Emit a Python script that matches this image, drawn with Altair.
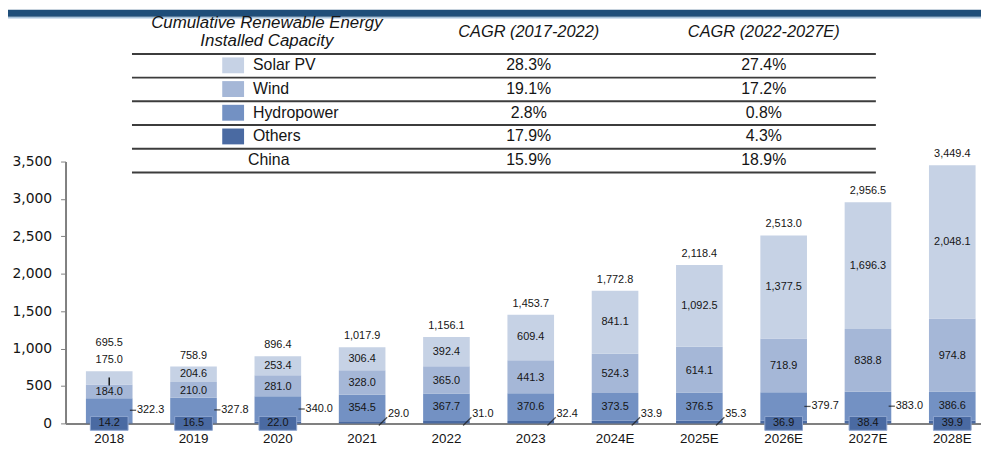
import altair as alt
import pandas as pd

# ---------------- data ----------------
YEARS = ["2018", "2019", "2020", "2021", "2022", "2023",
         "2024E", "2025E", "2026E", "2027E", "2028E"]
SOLAR = [175.0, 204.6, 253.4, 306.4, 392.4, 609.4, 841.1, 1092.5, 1377.5, 1696.3, 2048.1]
WIND = [184.0, 210.0, 281.0, 328.0, 365.0, 441.3, 524.3, 614.1, 718.9, 838.8, 974.8]
HYDRO = [322.3, 327.8, 340.0, 354.5, 367.7, 370.6, 373.5, 376.5, 379.7, 383.0, 386.6]
OTHERS = [14.2, 16.5, 22.0, 29.0, 31.0, 32.4, 33.9, 35.3, 36.9, 38.4, 39.9]
TOTALS = [695.5, 758.9, 896.4, 1017.9, 1156.1, 1453.7, 1772.8, 2118.4, 2513.0, 2956.5, 3449.4]

Y_TICKS = [0, 500, 1000, 1500, 2000, 2500, 3000, 3500]

TABLE_ROWS = ["Solar PV", "Wind", "Hydropower", "Others", "China"]
CAGR_17_22 = ["28.3%", "19.1%", "2.8%", "17.9%", "15.9%"]
CAGR_22_27 = ["27.4%", "17.2%", "0.8%", "4.3%", "18.9%"]
HEAD_1 = ["Cumulative Renewable Energy", "Installed Capacity"]
HEAD_2 = "CAGR (2017-2022)"
HEAD_3 = "CAGR (2022-2027E)"

# label placement (style)
SOLAR_ABOVE = ["2018"]
HYDRO_OUTSIDE = ["2018", "2019", "2020", "2026E", "2027E"]
OTHERS_BOXED = ["2018", "2019", "2020", "2026E", "2027E", "2028E"]

SERIES = ["Solar PV", "Wind", "Hydropower", "Others"]
COLORS = ["#c6d2e5", "#a5b7d7", "#7391c3", "#4a6aa2"]

FONT = "Liberation Sans"
TXT = "#151515"

# ---------------- frames ----------------
long_rows, wide_rows = [], []
for i, yr in enumerate(YEARS):
    base = 0.0
    rec = {"year": yr, "total": TOTALS[i]}
    for s, vals in [("Others", OTHERS), ("Hydropower", HYDRO), ("Wind", WIND), ("Solar PV", SOLAR)]:
        v = vals[i]
        long_rows.append({"year": yr, "series": s, "value": v, "y0": base, "y1": base + v})
        rec[s + "_val"] = v
        rec[s + "_mid"] = base + v / 2
        rec[s + "_y0"] = base
        base += v
    wide_rows.append(rec)
long_df = pd.DataFrame(long_rows)
wide = pd.DataFrame(wide_rows)

W, H = 923, 264
xscale = alt.Scale(paddingInner=0.447, paddingOuter=0.153, align=0.79)
yscale = alt.Scale(domain=[0, 3500], nice=False, zero=True)
X = alt.X("year:N", sort=YEARS, scale=xscale,
          axis=alt.Axis(title=None, ticks=False, labelAngle=0, labelFont=FONT,
                        labelFontSize=13.5, labelColor=TXT, labelPadding=8,
                        domainColor="#808080", domainWidth=2))
YAX = alt.Axis(title=None, values=Y_TICKS, format=",d", grid=False,
               labelOverlap=False, tickSize=5, tickColor="#808080",
               domainColor="#808080", domainWidth=2,
               labelFont="DejaVu Sans", labelFontSize=14,
               labelColor=TXT, labelPadding=9)
color = alt.Color("series:N", scale=alt.Scale(domain=SERIES, range=COLORS), legend=None)


def Yq(col):
    return alt.Y(col, scale=yscale, axis=YAX)


def Y0():
    return alt.Y(datum=0, scale=yscale, axis=YAX)


bars = alt.Chart(long_df).mark_bar().encode(
    x=X, y=Yq("y1:Q"), y2="y0:Q", color=color)


def lbl(df, ycol, tcol, **mk):
    return alt.Chart(df).mark_text(font=FONT, fontSize=11, color=TXT, **mk).encode(
        x=X, y=Yq(ycol), text=alt.Text(tcol, format=",.1f"))


w_norm = wide[~wide["year"].isin(SOLAR_ABOVE)]
w_above = wide[wide["year"].isin(SOLAR_ABOVE)]
w_hin = wide[~wide["year"].isin(HYDRO_OUTSIDE)]
w_hout = wide[wide["year"].isin(HYDRO_OUTSIDE)]
w_obox = wide[wide["year"].isin(OTHERS_BOXED)]
w_oout = wide[~wide["year"].isin(OTHERS_BOXED)]

totals = lbl(w_norm, "total:Q", "total:Q", baseline="bottom", dy=-6)
totals_up = lbl(w_above, "total:Q", "total:Q", baseline="bottom", dy=-24)
solar_in = lbl(w_norm, "Solar PV_mid:Q", "Solar PV_val:Q", baseline="middle")
solar_up = lbl(w_above, "total:Q", "Solar PV_val:Q", baseline="bottom", dy=-6)
solar_leader = alt.Chart(w_above).mark_rule(color=TXT, strokeWidth=1.5, yOffset=1, y2Offset=-7).encode(
    x=X, y=Yq("Solar PV_y0:Q"), y2="Solar PV_y0:Q")
wind_lbl = lbl(wide, "Wind_mid:Q", "Wind_val:Q", baseline="middle", dy=1)
hydro_in = lbl(w_hin, "Hydropower_mid:Q", "Hydropower_val:Q", baseline="middle")
hydro_out = lbl(w_hout, "Hydropower_mid:Q", "Hydropower_val:Q", baseline="middle", align="left", dx=28)
hydro_dash = alt.Chart(w_hout).mark_point(shape="M-1,0L1,0", size=40, filled=False,
                                          color=TXT, strokeWidth=1.3, xOffset=24).encode(
    x=X, y=Yq("Hydropower_mid:Q"))
others_box = alt.Chart(w_obox).mark_bar(width=38, color="#4a6aa2", stroke="#8ea5cf",
                                        strokeWidth=1, yOffset=7, y2Offset=-7).encode(
    x=X, y=Y0(), y2=alt.datum(0))
others_in = alt.Chart(w_obox).mark_text(font=FONT, fontSize=11, color=TXT, baseline="middle").encode(
    x=X, y=Y0(), text=alt.Text("Others_val:Q", format=",.1f"))
others_slash = alt.Chart(w_oout).mark_point(shape="M-1,1L1,-1", size=70, filled=False,
                                            color=TXT, strokeWidth=1.3, xOffset=21, yOffset=-2).encode(
    x=X, y=Y0())
others_out = alt.Chart(w_oout).mark_text(font=FONT, fontSize=11, color=TXT, baseline="middle",
                                         align="left", dx=26, dy=-9).encode(
    x=X, y=Y0(), text=alt.Text("Others_val:Q", format=",.1f"))

bar_part = alt.layer(bars, others_box, totals, totals_up, solar_in, solar_up, solar_leader,
                     wind_lbl, hydro_in, hydro_out, hydro_dash, others_in, others_slash, others_out)

# ---------------- table ----------------
ROW_TOP, ROW_H = -97.0, 23.9
tab = pd.DataFrame({"series": TABLE_ROWS, "c1": CAGR_17_22, "c2": CAGR_22_27})
tab["ypix"] = [ROW_TOP + i * ROW_H for i in range(len(tab))]
tab["ytop"] = tab["ypix"] - 8
tab["ybot"] = tab["ypix"] + 8
lines = pd.DataFrame({"ypix": [ROW_TOP - 11.5 + i * ROW_H for i in range(len(tab) + 1)]})
YP = alt.Y("ypix:Q", scale=None, axis=None)
one = alt.Data(values=[{}])

band = alt.Chart(one).mark_rect(color="#1f4e79").encode(
    x=alt.value(-58), x2=alt.value(W), y=alt.value(-153), y2=alt.value(-146))
band_line = alt.Chart(one).mark_rule(color="#a9c4dc", strokeWidth=1.5).encode(
    x=alt.value(-58), x2=alt.value(W), y=alt.value(-145))
rules = alt.Chart(lines).mark_rule(color="#3c3c3c", strokeWidth=2).encode(
    x=alt.value(67), x2=alt.value(817), y=YP)
swatch = alt.Chart(tab[tab["series"].isin(SERIES)]).mark_rect().encode(
    x=alt.value(158), x2=alt.value(180),
    y=alt.Y("ytop:Q", scale=None, axis=None), y2="ybot:Q", color=color)
row_lbl = alt.Chart(tab[tab["series"].isin(SERIES)]).mark_text(
    font=FONT, fontSize=16, color=TXT, align="left", baseline="middle").encode(
    x=alt.value(189), y=YP, text="series:N")
china_lbl = alt.Chart(tab[~tab["series"].isin(SERIES)]).mark_text(
    font=FONT, fontSize=16, color=TXT, align="left", baseline="middle").encode(
    x=alt.value(184), y=YP, text="series:N")
c1 = alt.Chart(tab).mark_text(font=FONT, fontSize=16, color=TXT, baseline="middle").encode(
    x=alt.value(467), y=YP, text="c1:N")
c2 = alt.Chart(tab).mark_text(font=FONT, fontSize=16, color=TXT, baseline="middle").encode(
    x=alt.value(704), y=YP, text="c2:N")
hd = dict(font=FONT, fontStyle="italic", color=TXT, baseline="middle")
h1a = alt.Chart(one).mark_text(fontSize=17, **hd).encode(
    x=alt.value(203), y=alt.value(-140), text=alt.value(HEAD_1[0]))
h1b = alt.Chart(one).mark_text(fontSize=17, **hd).encode(
    x=alt.value(203), y=alt.value(-121), text=alt.value(HEAD_1[1]))
h2 = alt.Chart(one).mark_text(fontSize=16.5, **hd).encode(
    x=alt.value(467), y=alt.value(-130.5), text=alt.value(HEAD_2))
h3 = alt.Chart(one).mark_text(fontSize=16.5, **hd).encode(
    x=alt.value(704), y=alt.value(-130.5), text=alt.value(HEAD_3))

table_part = alt.layer(band, band_line, rules, swatch, row_lbl, china_lbl, c1, c2, h1a, h1b, h2, h3)

chart = alt.layer(bar_part, table_part).resolve_scale(y="independent").properties(
    width=W, height=H,
    padding={"left": 58, "top": 153, "right": 0, "bottom": 22},
    autosize=alt.AutoSizeParams(type="none"),
    background="white",
).configure_view(stroke=None)

chart.save("out.html", embed_options={"renderer": "svg", "actions": False})
